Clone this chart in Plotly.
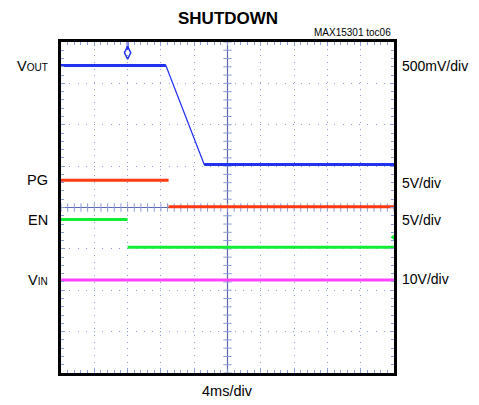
import numpy as np
import plotly.graph_objects as go

# ---- data (time in divisions, 4 ms/div; level in screen divisions) ----
vout_t = [0.0, 3.15, 4.30, 10.0]
vout_v = [7.43, 7.43, 5.04, 5.04]
pg_t = [0.0, 3.23, 3.23, 10.0]
pg_v = [4.66, 4.66, 4.02, 4.02]
en_t = [0.0, 2.0, 2.0, 10.0]
en_v = [3.71, 3.71, 3.04, 3.04]
vin_t = [0.0, 10.0]
vin_v = [2.25, 2.25]

left_labels = ["V<span style='font-size:10px'>OUT</span>", "PG", "EN", "V<span style='font-size:10px'>IN</span>"]
left_label_y = [7.43, 4.66, 3.71, 2.25]
right_labels = ["500mV/div", "5V/div", "5V/div", "10V/div"]
right_label_y = [7.43, 4.60, 3.70, 2.28]
trigger_t = 2.0
en_ground = 3.28

BLUE = "#2233f0"
RED = "#ff3a10"
GREEN = "#11ee33"
MAGENTA = "#ff44ff"
GRID = "#8c9ad6"
CENTER = "#5a68b0"
FONT = "Liberation Sans, Arial, sans-serif"


def split_steps(t, v):
    """Hide vertical (instantaneous) transitions, like a scope's fast edges."""
    xs, ys = [t[0]], [v[0]]
    for i in range(1, len(t)):
        if t[i] == t[i - 1]:
            xs.append(None)
            ys.append(None)
        xs.append(t[i])
        ys.append(v[i])
    return xs, ys


def flat_only(t, v):
    xs, ys = [], []
    for i in range(1, len(t)):
        if v[i] == v[i - 1]:
            xs += [t[i - 1], t[i], None]
            ys += [v[i - 1], v[i], None]
    return xs, ys


fig = go.Figure()

# center cross lines with subdivision ticks
sub_x = np.arange(0, 10.001, 0.2)
sub_y = np.arange(0, 8.001, 0.2)
fig.add_trace(go.Scatter(x=[0, 10], y=[4, 4], mode="lines",
                         line=dict(color=CENTER, width=1.2), hoverinfo="skip"))
fig.add_trace(go.Scatter(x=[5, 5], y=[0, 8], mode="lines",
                         line=dict(color=CENTER, width=1.2), hoverinfo="skip"))
fig.add_trace(go.Scatter(x=sub_x, y=[4] * len(sub_x), mode="markers",
                         marker=dict(symbol="line-ns", size=6, line=dict(color=GRID, width=1)),
                         hoverinfo="skip"))
fig.add_trace(go.Scatter(x=[5] * len(sub_y), y=sub_y, mode="markers",
                         marker=dict(symbol="line-ew", size=6, line=dict(color=GRID, width=1)),
                         hoverinfo="skip"))

# waveforms
fig.add_trace(go.Scatter(x=vout_t, y=vout_v, mode="lines",
                         line=dict(color=BLUE, width=1.3), hoverinfo="skip"))
fx, fy = flat_only(vout_t, vout_v)
fig.add_trace(go.Scatter(x=fx, y=fy, mode="lines",
                         line=dict(color=BLUE, width=3), hoverinfo="skip"))
for t, v, c in [(pg_t, pg_v, RED), (en_t, en_v, GREEN), (vin_t, vin_v, MAGENTA)]:
    xs, ys = split_steps(t, v)
    fig.add_trace(go.Scatter(x=xs, y=ys, mode="lines",
                             line=dict(color=c, width=3), hoverinfo="skip"))

# trigger marker and ground marker
fig.add_trace(go.Scatter(x=[trigger_t], y=[7.93], mode="markers",
                         marker=dict(symbol="line-ns", size=7, color=BLUE,
                                     line=dict(color=BLUE, width=2)),
                         cliponaxis=False, hoverinfo="skip"))
fig.add_trace(go.Scatter(x=[trigger_t], y=[7.74], mode="markers",
                         marker=dict(symbol="diamond-tall-open", size=9, color=BLUE,
                                     line=dict(color=BLUE, width=1.5)),
                         cliponaxis=False, hoverinfo="skip"))
fig.add_trace(go.Scatter(x=[10], y=[en_ground], mode="markers",
                         marker=dict(symbol="triangle-left", size=7, color=GREEN),
                         cliponaxis=False, hoverinfo="skip"))

axis_common = dict(showticklabels=False, showline=True, linewidth=3, linecolor="black",
                   mirror="allticks", zeroline=False, fixedrange=True,
                   ticks="inside", ticklen=4, tickcolor=GRID, tickwidth=1,
                   gridcolor=GRID, gridwidth=1)
fig.update_xaxes(range=[0, 10], dtick=1, tick0=0, griddash="1px,5.66px",
                 minor=dict(dtick=0.2, ticks="inside", ticklen=3, tickcolor=GRID, showgrid=False),
                 **axis_common)
fig.update_yaxes(range=[0, 8], dtick=1, tick0=0, griddash="1px,7.28px",
                 minor=dict(dtick=0.2, ticks="inside", ticklen=3, tickcolor=GRID, showgrid=False),
                 **axis_common)

ann = []
for lab, y in zip(left_labels, left_label_y):
    ann.append(dict(text=lab, x=0, xref="paper", y=y, yref="y", xanchor="right",
                    yanchor="middle", xshift=-11, showarrow=False,
                    font=dict(family=FONT, size=14.5, color="black")))
for lab, y in zip(right_labels, right_label_y):
    ann.append(dict(text=lab, x=1, xref="paper", y=y, yref="y", xanchor="left",
                    yanchor="middle", xshift=6, showarrow=False,
                    font=dict(family=FONT, size=14, color="black")))
ann.append(dict(text="4ms/div", x=0.5, xref="paper", y=0, yref="paper", yanchor="top",
                yshift=-8, showarrow=False, font=dict(family=FONT, size=14.5, color="black")))
ann.append(dict(text="MAX15301 toc06", x=1, xref="paper", y=1, yref="paper", xanchor="right",
                yanchor="bottom", xshift=-1, yshift=2, showarrow=False,
                font=dict(family=FONT, size=10, color="black")))
ann.append(dict(text="<b>SHUTDOWN</b>", x=0.5, xref="paper", y=1, yref="paper",
                yanchor="middle", yshift=24, showarrow=False, borderpad=0,
                font=dict(family=FONT, size=17, color="black")))

# page body has an 8px margin, so the figure is 8px smaller and margins shifted
fig.update_layout(width=471, height=397, margin=dict(l=53, r=85, t=34, b=32),
                  paper_bgcolor="white", plot_bgcolor="white", showlegend=False,
                  annotations=ann)

fig.write_html("out.html")
